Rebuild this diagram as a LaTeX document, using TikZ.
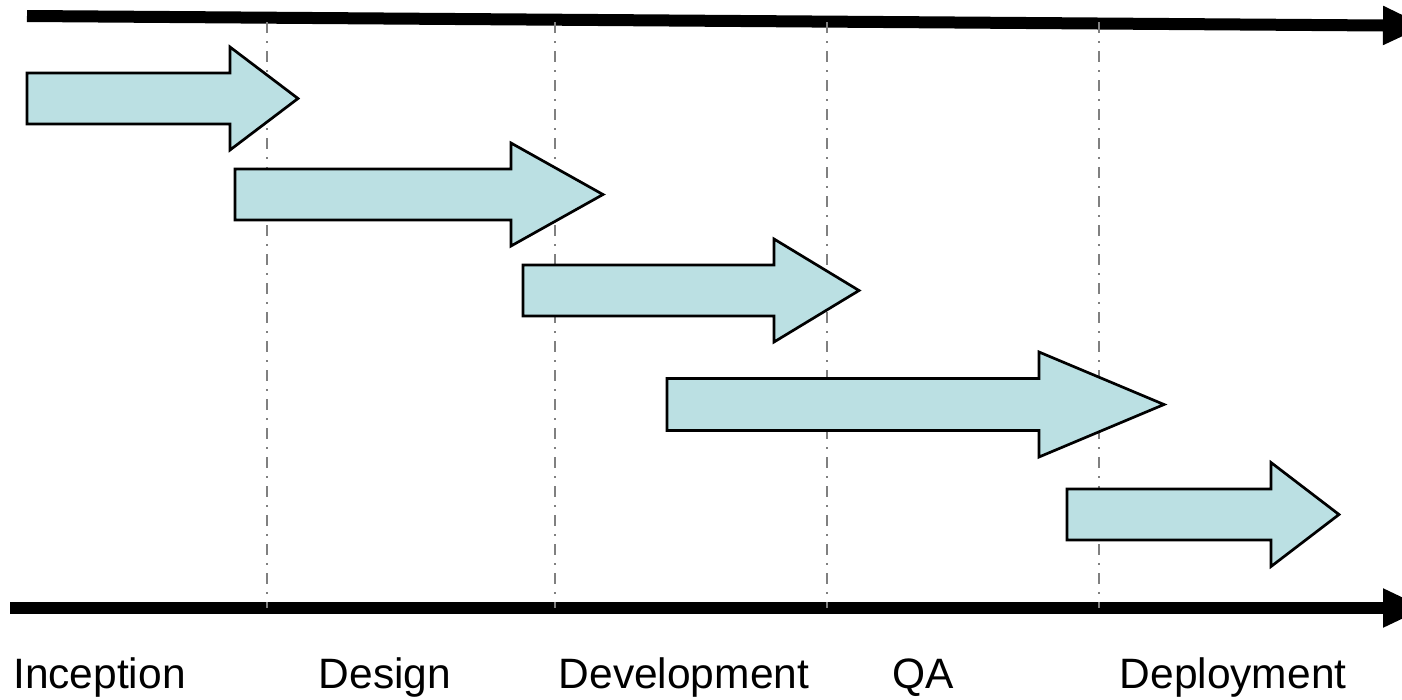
\documentclass[tikz,border=0pt]{standalone}
\usepackage{fontspec}
\setmainfont{Liberation Sans}
\usetikzlibrary{arrows.meta}
\definecolor{blockfill}{RGB}{187,224,227}
\definecolor{guidegray}{RGB}{128,128,128}
\tikzset{
  axisline/.style={line width=12pt, -{Triangle[length=43pt,width=36pt]}},
  guide/.style={draw=guidegray, line width=2.4pt, dash pattern=on 11pt off 8pt on 2pt off 8pt},
  blk/.style={draw=black, fill=blockfill, line width=2.7pt, line join=miter},
  phase/.style={anchor=base west, inner sep=0pt, font=\fontsize{42.5}{50}\selectfont}
}
\newcommand{\blockarr}[7]{% name, x0, yc, xbase, xtip, body half, head half
  \draw[blk] (#2,#3-#6) -- (#4,#3-#6) -- (#4,#3-#7) -- (#5,#3) -- (#4,#3+#7) -- (#4,#3+#6) -- (#2,#3+#6) -- cycle;
  \coordinate (#1) at (#5,#3);
}
\begin{document}
\begin{tikzpicture}[x=1pt,y=-1pt]
\useasboundingbox (0,0) rectangle (1402,699);
% axis lines
\coordinate (t0) at (27,16);
\coordinate (t1) at (1426,25.8);
\coordinate (b0) at (10,608);
\coordinate (b1) at (1426,608);
\draw[axisline] (t0) -- (t1);
\draw[axisline] (b0) -- (b1);
% phase boundaries
\foreach \x/\n in {267/g1,555/g2,827/g3,1099/g4}{
  \coordinate (\n top) at (\x,22);
  \coordinate (\n bot) at (\x,608);
  \draw[guide] (\n top) -- (\n bot);
}
% block arrows
\blockarr{a1}{27}{98.5}{230}{298}{25.5}{51.5}
\blockarr{a2}{235}{194.5}{511}{603}{25.5}{51.5}
\blockarr{a3}{523}{290.5}{774}{859}{25.5}{51.5}
\blockarr{a4}{667}{404.5}{1039}{1164}{26}{52.5}
\blockarr{a5}{1067}{514.5}{1271}{1339}{25.5}{52}
% labels
\node[phase] (l1) at (13,688) {Inception};
\node[phase] (l2) at (318.5,688) {Design};
\node[phase] (l3) at (558.5,688) {Development};
\node[phase] (l4) at (892,688) {QA};
\node[phase] (l5) at (1119.5,688) {Deployment};
\end{tikzpicture}
\end{document}
